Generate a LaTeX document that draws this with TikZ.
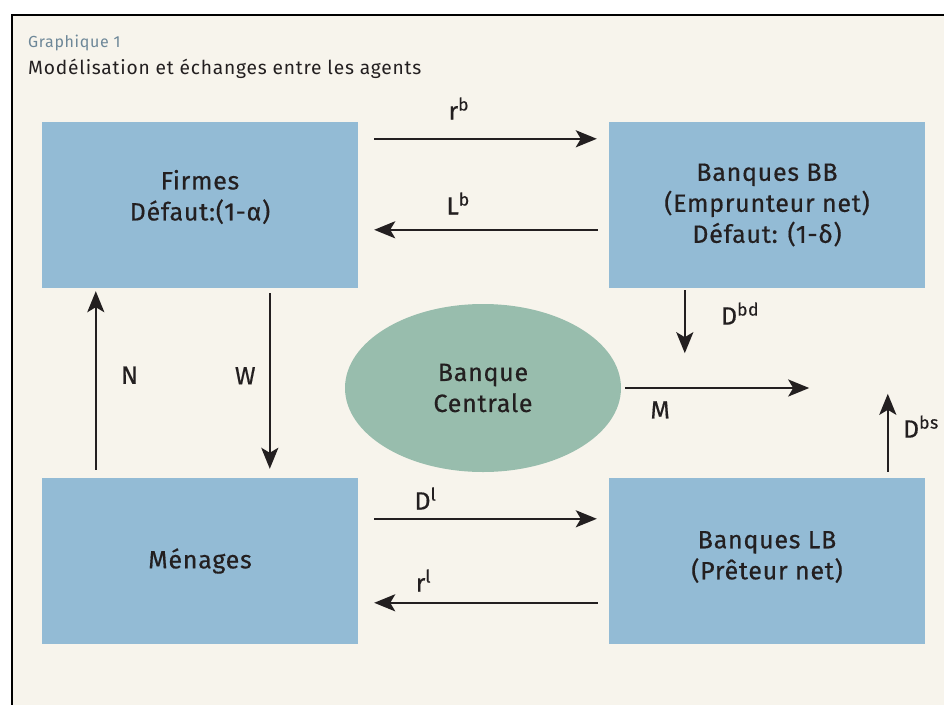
\documentclass[tikz,border=0pt]{standalone}
\usepackage{fontspec}
\setmainfont{Fira Sans}[LetterSpace=4.0]
\newfontfamily\medium{Fira Sans}[LetterSpace=3.0,FakeBold=0.5]
\usetikzlibrary{arrows.meta,calc,shapes.geometric}
\definecolor{boxblue}{HTML}{93BBD5}
\definecolor{bcgreen}{HTML}{98BDAD}
\definecolor{paper}{HTML}{F7F4EC}
\definecolor{ink}{HTML}{231F20}
\definecolor{capgrey}{HTML}{6D8798}
\begin{document}
\begin{tikzpicture}[x=1pt,y=-1pt,font=\medium\fontsize{25}{31}\selectfont,text=ink,
  agent/.style={fill=boxblue,minimum width=316pt,minimum height=166pt,inner sep=0,align=center},
  flux/.style={draw=ink,line width=2.5pt,-{Stealth[length=21pt,width=17pt,inset=5pt]}},
  lbl/.style={inner sep=0}]
\useasboundingbox (0,0) rectangle (944,704);
\clip (0,0) rectangle (944,704);
\fill[white] (0,0) rectangle (944,704);
\draw[fill=paper,line width=2pt] (12,15) rectangle (980,740);
% titre
\node[anchor=base west,inner sep=0,text=capgrey,font=\rmfamily\fontsize{16}{18}\selectfont] (num) at (28,47) {Graphique 1};
\node[anchor=base west,inner sep=0,font=\rmfamily\fontsize{19.2}{22}\selectfont] (titre) at (28,74) {Modélisation et échanges entre les agents};
% agents
\node[agent] (firmes) at (200,205) {};
\node (firmestxt) at (200,197) [align=center] {Firmes\\Défaut:(1-α)};
\node[agent] (bb) at (767,205) {Banques BB\\(Emprunteur net)\\Défaut: (1-δ)};
\node[agent] (menages) at (200,561) {Ménages};
\node[agent] (lb) at (767,561) {};
\node (lbtxt) at (767,557) [align=center] {Banques LB\\(Prêteur net)};
\node[ellipse,fill=bcgreen,minimum width=276pt,minimum height=168pt,inner sep=0,align=center] (bc) at (483,388) {Banque\\Centrale};
% flux
\draw[flux] ($(firmes.north east)+(16,17)$) -- node[lbl,pos=.38,above=18pt] {r\textsuperscript{b}} ($(bb.north west)+(-12,17)$);
\draw[flux] ($(bb.north west)+(-11,108)$) -- node[lbl,pos=.625,above=14pt] {L\textsuperscript{b}} ($(firmes.north east)+(16,108)$);
\draw[flux] ($(menages.north east)+(16,41)$) -- node[lbl,pos=.23,above=8pt] {D\textsuperscript{l}} ($(lb.north west)+(-12,41)$);
\draw[flux] ($(lb.north west)+(-11,125)$) -- node[lbl,pos=.78,above=10pt] {r\textsuperscript{l}} ($(menages.north east)+(16,125)$);
\draw[flux] ($(bb.south west)+(76,2)$) -- node[lbl,pos=.37,right=35pt] {D\textsuperscript{bd}} ($(bb.south west)+(76,65)$);
\draw[flux] ($(lb.north west)+(279,-6)$) -- node[lbl,pos=.58,right=14pt] {D\textsuperscript{bs}} ($(lb.north west)+(279,-84)$);
\draw[flux] ($(bc.east)+(4,0)$) -- node[lbl,pos=.19,below=12pt] {M} ($(bc.east)+(188,0)$);
\draw[flux] ($(menages.north west)+(54,-8)$) -- node[lbl,pos=.53,right=24pt] {N} ($(firmes.south west)+(54,3)$);
\draw[flux] ($(firmes.south west)+(228,5)$) -- node[lbl,pos=.47,left=13pt] {W} ($(menages.north west)+(228,-9)$);
\end{tikzpicture}
\end{document}
